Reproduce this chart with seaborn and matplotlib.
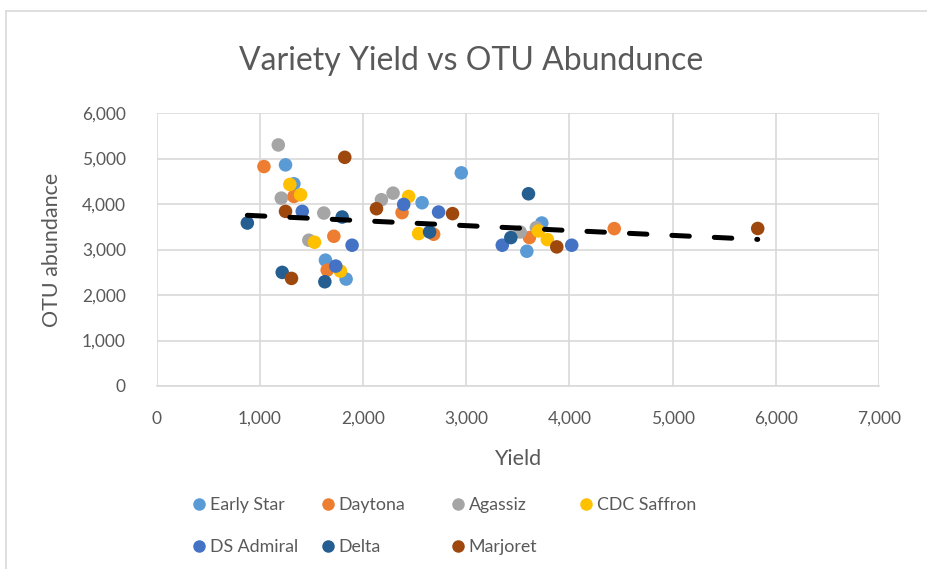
import numpy as np
import pandas as pd
import matplotlib
matplotlib.use("Agg")
import matplotlib.pyplot as plt
import matplotlib.ticker as mticker
from matplotlib.lines import Line2D
import seaborn as sns

# ---------------------------------------------------------------------
# Data (Yield, OTU abundance) per variety
# ---------------------------------------------------------------------
early_star_yield = [1250, 1331, 1637, 1837, 2573, 2953, 3733, 3588]
early_star_otu = [4860, 4444, 2766, 2350, 4028, 4685, 3582, 2962]

daytona_yield = [1041, 1331, 1718, 1654, 2379, 2685, 3613, 4435]
daytona_otu = [4823, 4166, 3291, 2547, 3810, 3335, 3262, 3459]

agassiz_yield = [1180, 1209, 1621, 1476, 2179, 2292, 3523, 3680]
agassiz_otu = [5298, 4129, 3801, 3204, 4094, 4239, 3385, 3480]

saffron_yield = [1292, 1396, 1531, 1782, 2443, 2540, 3700, 3787]
saffron_otu = [4429, 4203, 3160, 2525, 4166, 3350, 3407, 3218]

admiral_yield = [1412, 1895, 1737, 2395, 2733, 3350, 4023]
admiral_otu = [3838, 3094, 2635, 3991, 3823, 3094, 3094]

delta_yield = [880, 1799, 1218, 1631, 2646, 3604, 3433]
delta_otu = [3582, 3714, 2497, 2291, 3385, 4225, 3262]

marjoret_yield = [1824, 1250, 1308, 2131, 2868, 3878, 5825]
marjoret_otu = [5026, 3838, 2365, 3897, 3788, 3057, 3462]

varieties = ["Early Star", "Daytona", "Agassiz", "CDC Saffron",
             "DS Admiral", "Delta", "Marjoret"]
colors = ["#5B9BD5", "#ED7D31", "#A5A5A5", "#FFC000",
          "#4472C4", "#255E91", "#9E480E"]

yields = [early_star_yield, daytona_yield, agassiz_yield, saffron_yield,
          admiral_yield, delta_yield, marjoret_yield]
otus = [early_star_otu, daytona_otu, agassiz_otu, saffron_otu,
        admiral_otu, delta_otu, marjoret_otu]

df = pd.concat(
    [pd.DataFrame({"Yield": y, "OTU": o, "Variety": v})
     for v, y, o in zip(varieties, yields, otus)],
    ignore_index=True,
)

# ---------------------------------------------------------------------
# Figure
# ---------------------------------------------------------------------
sns.set_theme(style="white")
plt.rcParams["font.family"] = ["Lato", "DejaVu Sans"]
text_col = "#595959"

fig = plt.figure(figsize=(9.27, 5.69), dpi=100)
ax = fig.add_axes([156.5 / 927, 1 - 386 / 569, (879 - 156.5) / 927, (386 - 113) / 569])

sns.scatterplot(
    data=df, x="Yield", y="OTU", hue="Variety",
    hue_order=varieties, palette=colors,
    s=95, linewidth=0, legend=False, ax=ax, zorder=3,
)

# linear trendline over all points
sns.regplot(
    data=df, x="Yield", y="OTU", scatter=False, ci=None, ax=ax,
    line_kws={"color": "black", "lw": 3.6, "dashes": (3.5, 5.0),
              "dash_capstyle": "round", "zorder": 4},
)

ax.set_xlim(0, 7000)
ax.set_ylim(0, 6000)
ax.xaxis.set_major_locator(mticker.MultipleLocator(1000))
ax.yaxis.set_major_locator(mticker.MultipleLocator(1000))
ax.xaxis.set_major_formatter(mticker.StrMethodFormatter("{x:,.0f}"))
ax.yaxis.set_major_formatter(mticker.StrMethodFormatter("{x:,.0f}"))
ax.grid(True, color="#D9D9D9", lw=1.2)
ax.set_axisbelow(True)
for side in ["top", "right", "left"]:
    ax.spines[side].set_visible(False)
ax.spines["bottom"].set_color("#D9D9D9")
ax.spines["bottom"].set_linewidth(1.2)
ax.tick_params(axis="both", length=0, labelsize=12.5, colors=text_col)
ax.tick_params(axis="x", pad=18)
ax.tick_params(axis="y", pad=22)

ax.set_xlabel("Yield", fontsize=15.5, color=text_col, labelpad=16)
ax.set_ylabel("OTU abundance", fontsize=15.5, color=text_col, labelpad=14)

fig.text(471 / 927, 1 - 61 / 569, "Variety Yield vs OTU Abundunce",
         ha="center", va="center", fontsize=23, color=text_col)

# legend entries laid out on a fixed grid like the original
col_x = [190, 319, 449, 577]
row_y = [505, 547]
for i, (name, c) in enumerate(zip(varieties, colors)):
    r, k = divmod(i, 4)
    h = Line2D([], [], marker="o", ls="", color=c, markersize=9, markeredgewidth=0)
    fig.legend(handles=[h], labels=[name], loc="center left",
               bbox_to_anchor=(col_x[k] / 927, 1 - row_y[r] / 569),
               frameon=False, fontsize=12.8, labelcolor=text_col,
               handletextpad=0.1, handlelength=1.0, borderpad=0, borderaxespad=0)

# outer chart border (only top and left visible in the crop)
fig.add_artist(Line2D([6 / 927, 1.01], [1 - 11 / 569] * 2, color="#D9D9D9", lw=1.2))
fig.add_artist(Line2D([6 / 927] * 2, [1 - 11 / 569, -0.01], color="#D9D9D9", lw=1.2))

fig.savefig("out.png", dpi=100)
